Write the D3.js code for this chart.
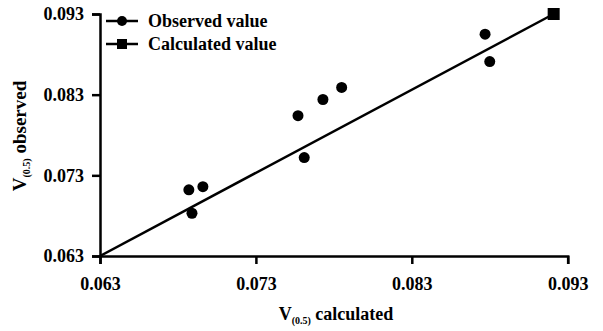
<!DOCTYPE html>
<html>
<head>
<meta charset="utf-8">
<script src="https://cdn.jsdelivr.net/npm/d3@7"></script>
<style>
  body { margin: 0; background: #fff; }
  .axis path, .axis line { stroke: #000; stroke-width: 2.5; }
</style>
</head>
<body>
<div id="chart"></div>
<script>
// observed points: V(0.5) calculated vs V(0.5) observed
const calcX = [0.0687, 0.0696, 0.0689, 0.0757, 0.0761, 0.0773, 0.0785, 0.0877, 0.0880];
const obsY = [0.0712, 0.0716, 0.0683, 0.0804, 0.0752, 0.0824, 0.0839, 0.0905, 0.0871];

// calculated value line (end marker only)
const lineX = [0.063, 0.0921];
const lineY = [0.063, 0.093];

const tickValues = [0.063, 0.073, 0.083, 0.093];
const seriesNames = ["Observed value", "Calculated value"];

const font = '"Liberation Serif", "Times New Roman", serif';

const width = 603;
const height = 331;
const margin = { top: 14, right: 35, bottom: 75, left: 100 };

const svg = d3.select("#chart")
  .append("svg")
  .attr("width", width)
  .attr("height", height);

const x = d3.scaleLinear()
  .domain([0.063, 0.093])
  .range([margin.left, 567.7]);

const y = d3.scaleLinear()
  .domain([0.063, 0.093])
  .range([256, margin.top]);

svg.append("g")
  .attr("class", "axis")
  .attr("transform", `translate(0,${y(0.063)})`)
  .call(d3.axisBottom(x).tickValues(tickValues).tickFormat(d3.format(".3f")).tickSizeOuter(0).tickSize(8).tickPadding(13));

svg.append("g")
  .attr("class", "axis")
  .attr("transform", `translate(${x(0.063)},0)`)
  .call(d3.axisLeft(y).tickValues(tickValues).tickFormat(d3.format(".3f")).tickSizeOuter(0).tickSize(8).tickPadding(8));

// regression / calculated line
const lineData = lineX.map((v, i) => ({ x: v, y: lineY[i] }));
svg.append("path")
  .datum(lineData)
  .attr("fill", "none")
  .attr("stroke", "#000")
  .attr("stroke-width", 2.5)
  .attr("d", d3.line().x(d => x(d.x)).y(d => y(d.y)));

const last = lineData[lineData.length - 1];
svg.append("rect")
  .attr("x", x(last.x) - 6)
  .attr("y", y(last.y) - 6)
  .attr("width", 12)
  .attr("height", 12)
  .attr("fill", "#000");

svg.selectAll(".obs")
  .data(calcX.map((v, i) => ({ x: v, y: obsY[i] })))
  .enter()
  .append("circle")
  .attr("class", "obs")
  .attr("cx", d => x(d.x))
  .attr("cy", d => y(d.y))
  .attr("r", 5.5)
  .attr("fill", "#000");

// legend
const legend = svg.append("g").attr("transform", "translate(106,21)");
seriesNames.forEach((name, i) => {
  const row = legend.append("g").attr("transform", `translate(0,${i * 23})`);
  row.append("line")
    .attr("x1", 0).attr("x2", 32)
    .attr("stroke", "#000").attr("stroke-width", 2.5);
  if (i === 0) {
    row.append("circle").attr("cx", 16).attr("r", 5).attr("fill", "#000");
  } else {
    row.append("rect").attr("x", 11).attr("y", -5).attr("width", 10).attr("height", 10).attr("fill", "#000");
  }
  row.append("text")
    .attr("x", 42)
    .attr("y", 6)
    .style("font-size", "18px")
    .text(name);
});

// axis titles
const xt = svg.append("text")
  .attr("x", 336)
  .attr("y", 320)
  .attr("text-anchor", "middle")
  .style("font-size", "18px");
xt.append("tspan").text("V");
xt.append("tspan").style("font-size", "10px").attr("dy", 4).text("(0.5)");
xt.append("tspan").attr("dy", -4).text(" calculated");

const yt = svg.append("text")
  .attr("transform", "translate(26,136) rotate(-90)")
  .attr("text-anchor", "middle")
  .style("font-size", "19px");
yt.append("tspan").text("V");
yt.append("tspan").style("font-size", "10px").attr("dy", 4).text("(0.5)");
yt.append("tspan").attr("dy", -4).text(" observed");

svg.selectAll("text")
  .style("font-family", font)
  .style("font-weight", "bold")
  .attr("fill", "#000");
svg.selectAll(".tick text").style("font-size", "18px");
</script>
</body>
</html>
